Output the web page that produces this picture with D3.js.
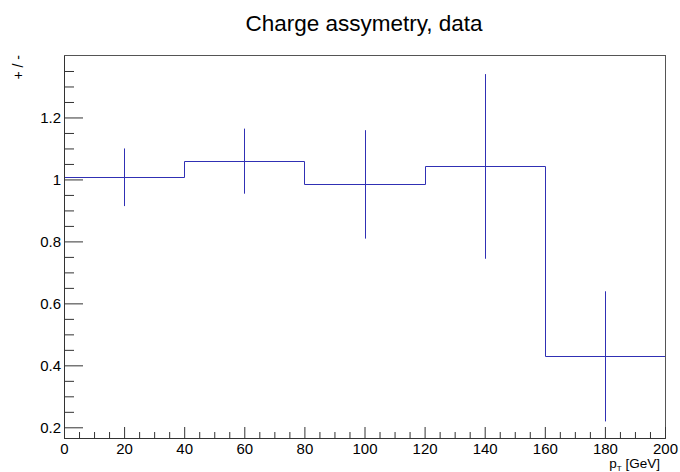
<!DOCTYPE html>
<html><head><meta charset="utf-8">
<script src="https://cdn.jsdelivr.net/npm/d3@7"></script>
<style>
body{margin:0;background:#fff;}
text{font-family:"Liberation Sans",Arial,sans-serif;}
</style></head>
<body><svg id="c" width="680" height="472"></svg>
<script>
const binEdges = [0, 40, 80, 120, 160, 200];
const values = [1.007, 1.059, 0.984, 1.042, 0.429];
const errors = [0.093, 0.105, 0.175, 0.298, 0.21];
const xTicks = [0, 20, 40, 60, 80, 100, 120, 140, 160, 180, 200];
const yTicks = [0.2, 0.4, 0.6, 0.8, 1.0, 1.2];
const yTickLabels = ["0.2", "0.4", "0.6", "0.8", "1", "1.2"];
const titleText = "Charge assymetry, data";
const yLabel = "+ / -";

const svg = d3.select("#c");
const L = 64, R = 665, T = 55.5, B = 438;
const x = d3.scaleLinear().domain([0, 200]).range([L, R]);
const y = d3.scaleLinear().domain([0.1655, 1.4]).range([B, T]);
const col = "#3030b4";
const axCol = "#333";

// histogram step line
const pts = [];
values.forEach((v, i) => { pts.push([binEdges[i], v]); pts.push([binEdges[i + 1], v]); });
svg.append("path")
  .attr("d", d3.line().x(d => Math.round(x(d[0])) + 0.5).y(d => Math.round(y(d[1])) + 0.5)(pts))
  .attr("fill", "none").attr("stroke", col).attr("stroke-width", 1);

// error bars
values.forEach((v, i) => {
  const cx = Math.round(x((binEdges[i] + binEdges[i + 1]) / 2)) + 0.5;
  svg.append("line").attr("x1", cx).attr("x2", cx)
    .attr("y1", y(v - errors[i])).attr("y2", y(v + errors[i]))
    .attr("stroke", col).attr("stroke-width", 1);
});

// frame
svg.append("rect").attr("x", L).attr("y", T).attr("width", R - L).attr("height", B - T)
  .attr("fill", "none").attr("stroke", "#555").attr("stroke-width", 1)
  .attr("shape-rendering", "crispEdges");

// x axis minor
const xMinor = d3.range(0, 201, 5).filter(v => v % 20 !== 0);
svg.append("g").attr("transform", `translate(0,${B})`)
  .call(d3.axisBottom(x).tickValues(xMinor).tickSize(-6).tickFormat(""))
  .call(g => g.select(".domain").remove())
  .selectAll("line").attr("stroke", axCol);
// x axis major
const gx = svg.append("g").attr("transform", `translate(0,${B})`)
  .call(d3.axisBottom(x).tickValues(xTicks).tickSize(-11).tickSizeOuter(0).tickPadding(5).tickFormat(d3.format("d")));
gx.select(".domain").attr("stroke", axCol);
gx.selectAll("line").attr("stroke", axCol);
gx.selectAll("text").attr("font-size", 15).attr("fill", "#000")
  .attr("font-family", "'Liberation Sans', Arial, sans-serif");

// y axis minor
const yMinor = d3.range(4, 29).map(k => k * 0.05).filter(v => Math.abs(v * 5 - Math.round(v * 5)) > 1e-6 && v <= 1.4 && v >= 0.1655);
svg.append("g").attr("transform", `translate(${L},0)`)
  .call(d3.axisLeft(y).tickValues(yMinor).tickSize(-10).tickFormat(""))
  .call(g => g.select(".domain").remove())
  .selectAll("line").attr("stroke", axCol);
// y axis major
const gy = svg.append("g").attr("transform", `translate(${L},0)`)
  .call(d3.axisLeft(y).tickValues(yTicks).tickSize(-19).tickSizeOuter(0).tickPadding(3)
    .tickFormat((d, i) => yTickLabels[i]));
gy.select(".domain").attr("stroke", axCol);
gy.selectAll("line").attr("stroke", axCol);
gy.selectAll("text").attr("font-size", 15).attr("fill", "#000")
  .attr("font-family", "'Liberation Sans', Arial, sans-serif");

// title
svg.append("text").attr("x", 364).attr("y", 31).attr("text-anchor", "middle")
  .attr("font-size", 22.5).attr("fill", "#000").text(titleText);

// y label
svg.append("text").attr("transform", "translate(23,55) rotate(-90)")
  .attr("text-anchor", "end").attr("font-size", 14).attr("fill", "#000").text(yLabel);

// x label
const xl = svg.append("text").attr("x", 660).attr("y", 468).attr("text-anchor", "end")
  .attr("font-size", 13.5).attr("fill", "#000");
xl.append("tspan").text("p");
xl.append("tspan").attr("font-size", 8).attr("dy", 3).text("T");
xl.append("tspan").attr("dy", -3).text(" [GeV]");
</script></body></html>
